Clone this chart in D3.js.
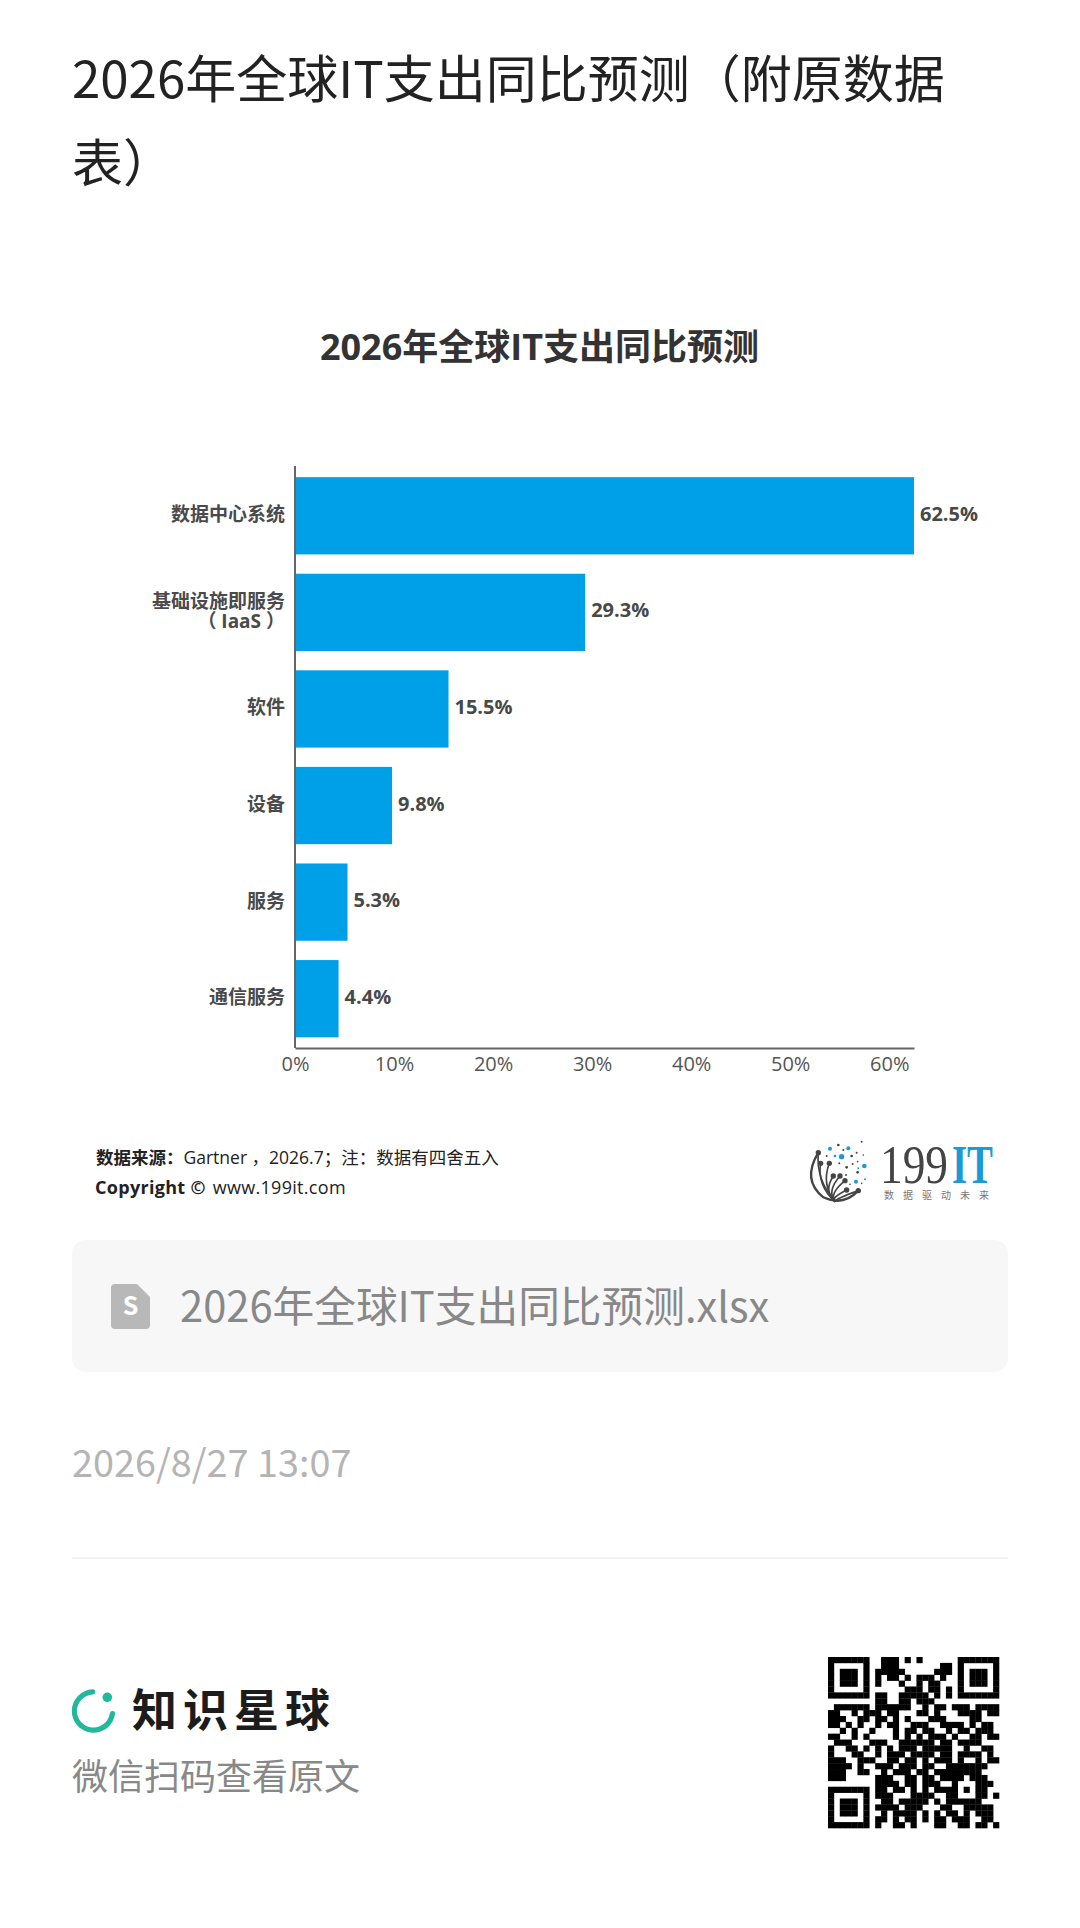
<!DOCTYPE html>
<html>
<head>
<meta charset="utf-8">
<script src="https://cdn.jsdelivr.net/npm/d3@7/dist/d3.min.js"></script>
<style>
	html, body { margin: 0; padding: 0; background: #fff; }
	svg { display: block; }
	text { font-family: "Noto Sans CJK SC", "Noto Sans", sans-serif; }
	.chart text { font-family: "Open Sans", "Noto Sans CJK SC", sans-serif; }
</style>
</head>
<body>
<div id="page"></div>
<script>
"use strict";

const categories = ["数据中心系统", "基础设施即服务|（ IaaS ）", "软件", "设备", "服务", "通信服务"];
const growth = [62.5, 29.3, 15.5, 9.8, 5.3, 4.4];
const tickValues = [0, 10, 20, 30, 40, 50, 60];

// blue and dark specks of the 199IT logo
const logoBlue = [[810, 386, 6], [865, 385, 6], [845, 410, 8], [825, 408, 4], [913, 438, 7], [895, 445, 3], [888, 485, 6], [915, 478, 3]];
const logoDark = [[905, 365, 3], [835, 375, 4], [850, 390, 3], [890, 398, 3], [875, 408, 4], [910, 405, 2.5], [800, 408, 3], [838, 430, 3], [878, 432, 3], [893, 425, 2.5], [860, 442, 4], [893, 457, 4], [858, 465, 3], [870, 493, 2.5], [905, 490, 2.5]];
const logoTips = [[775, 398], [782, 430], [808, 430], [820, 468], [840, 468], [855, 482], [860, 510], [895, 512]];

const qrRows = [
	"XXXXXXX..XXX.X.X......XXXXXXX",
	"X.....X..XXX.......XX.X.....X",
	"X.XXX.X.XXXXX.....XXX.X.XXX.X",
	"X.XXX.X.X.XX.X.XXX.X..X.XXX.X",
	"X.XXX.X.X...X..X.XX...X.XXX.X",
	"X.....X......XXX.XX.X.X.....X",
	"XXXXXXX.XX..XXXXX.X.X.XXXXXXX",
	"........XX..XX.XXX...........",
	".XXXXXX.XXXXXX..X.XX.XXX.XXXX",
	"XX..X.XXX.XX...XX.X...XXXX.XX",
	"XXX..XX.XX.X.X...XXX....XX...",
	"XX.X.X..X.XX..XXX..XXXX.X.XX.",
	"..X.X..X...X.XX.XX..X.XX.XXX.",
	"XX..X.X....X.X.X.XXX.X..XX.XX",
	".XXX...XXX..XXXXXX.XX.XXXX...",
	"X..XX.X.X.X.XXX.XXXXX..X..XX.",
	"X...XX..X.XXX.XXXX.XX.XXXX.X.",
	"XXX..XXX..XX.XX.X.XXX.X..X.XX",
	"XXXX.X..XXX.XXX.XX..XXXXXXX..",
	"XXX..XX..X.XXX.XX.XXXXXXXX...",
	"XXX.....XXX..XX.XX.XXXX.XXX..",
	"........XXXX.XX.XXX..X...XXX.",
	"XXXXXXX.XX.XX.X.X.XXXX.X.XX..",
	"X.....X.XXX...XXXX..XX...XX.X",
	"X.XXX.X..XX.XXXXX.X.XXXXXX...",
	"X.XXX.X.XXXX.XXX...XX..XXXXX.",
	"X.XXX.X..X.XXXX.X.X.XX.X.XXX.",
	"X.....X.XX.X.XX.X.XX.XXX..XX.",
	"XXXXXXX.X..XX.X...XX..XX.XX.X"
];

const svg = d3.select("#page").append("svg")
	.attr("width", 1080)
	.attr("height", 1928);

const addText = (x, y, str, size, color, weight) => svg.append("text")
	.attr("x", x)
	.attr("y", y)
	.attr("font-size", size)
	.attr("font-weight", weight || 400)
	.attr("fill", color)
	.text(str);

// page heading
addText(72, 98, "2026年全球IT支出同比预测（附原数据", 51, "#222");
addText(72, 182, "表）", 51, "#222");

//chart
const chart = svg.append("g").attr("class", "chart");

const x = d3.scaleLinear().domain([0, 62.5]).range([295, 914]);
const y = d3.scaleBand().domain(categories).range([467.5, 1047]).paddingInner(0.2).paddingOuter(0.1);

chart.append("text")
	.attr("x", 539.5)
	.attr("y", 360)
	.attr("text-anchor", "middle")
	.attr("font-size", 36)
	.attr("font-weight", 700)
	.attr("fill", "#333")
	.text("2026年全球IT支出同比预测");

chart.selectAll("rect.bar")
	.data(growth)
	.enter()
	.append("rect")
	.attr("class", "bar")
	.attr("x", x(0))
	.attr("y", (d, i) => y(categories[i]))
	.attr("width", (d) => x(d) - x(0))
	.attr("height", y.bandwidth())
	.attr("fill", "#00a0e9");

chart.selectAll("text.value")
	.data(growth)
	.enter()
	.append("text")
	.attr("class", "value")
	.attr("x", (d) => x(d) + 6)
	.attr("y", (d, i) => y(categories[i]) + y.bandwidth() / 2 + 5)
	.attr("font-size", 20)
	.attr("font-weight", 700)
	.attr("fill", "#484848")
	.text((d) => d.toFixed(1) + "%");

// category labels, the long one breaks over two lines
categories.forEach((c) => {
	const lines = c.split("|");
	const mid = y(c) + y.bandwidth() / 2;
	const label = chart.append("text")
		.attr("y", mid + 5.5 - (lines.length - 1) * 10)
		.attr("text-anchor", "end")
		.attr("font-size", 19)
		.attr("font-weight", 700)
		.attr("fill", "#4a4a4a");
	lines.forEach((line, j) => {
		label.append("tspan")
			.attr("x", 285)
			.attr("dy", j ? 20 : 0)
			.text(line);
	});
});

const xAxis = chart.append("g")
	.attr("transform", "translate(0,1048)")
	.call(d3.axisBottom(x).tickValues(tickValues).tickSize(0).tickPadding(9).tickFormat((d) => d + "%"));
xAxis.select(".domain").attr("stroke", "#666").attr("stroke-width", 2);
xAxis.selectAll("text")
	.attr("font-family", "Open Sans")
	.attr("font-size", 20)
	.attr("fill", "#555");

chart.append("line")
	.attr("x1", 295).attr("x2", 295)
	.attr("y1", 466).attr("y2", 1048)
	.attr("stroke", "#666")
	.attr("stroke-width", 2);

// source notes
const source = chart.append("text").attr("x", 96).attr("y", 1164).attr("font-size", 17.5).attr("fill", "#222");
source.append("tspan").attr("font-weight", 700).text("数据来源：");
source.append("tspan").text("Gartner ，2026.7；注：数据有四舍五入");

const copyright = chart.append("text").attr("x", 95).attr("y", 1194).attr("font-size", 18).attr("letter-spacing", 0.3).attr("fill", "#222");
copyright.append("tspan").attr("font-weight", 700).text("Copyright ©");
copyright.append("tspan").attr("dx", 7).text("www.199it.com");

// 199IT logo, drawn in the coordinates of a 3x crop
const logo = svg.append("g").attr("transform", "translate(560,1020) scale(0.3333)");
logo.selectAll("path.tip")
	.data(logoTips)
	.enter()
	.append("path")
	.attr("class", "tip")
	.attr("d", (d) => `M825,545Q${(d[0] + 760) / 2},${(d[1] + 560) / 2} ${d[0]},${d[1]}`)
	.attr("fill", "none")
	.attr("stroke", "#444")
	.attr("stroke-width", 5);
logo.append("path")
	.attr("d", "M775,398Q725,480 790,532Q850,560 895,512")
	.attr("fill", "none")
	.attr("stroke", "#444")
	.attr("stroke-width", 7);
logo.selectAll("circle.tip")
	.data(logoTips)
	.enter()
	.append("circle")
	.attr("class", "tip")
	.attr("cx", (d) => d[0])
	.attr("cy", (d) => d[1])
	.attr("r", 8)
	.attr("fill", "#444");
logo.selectAll("circle.blue")
	.data(logoBlue)
	.enter()
	.append("circle")
	.attr("class", "blue")
	.attr("cx", (d) => d[0])
	.attr("cy", (d) => d[1])
	.attr("r", (d) => d[2])
	.attr("fill", "#1a9bd7");
logo.selectAll("circle.dark")
	.data(logoDark)
	.enter()
	.append("circle")
	.attr("class", "dark")
	.attr("cx", (d) => d[0])
	.attr("cy", (d) => d[1])
	.attr("r", (d) => d[2])
	.attr("fill", "#444");

// wordmark and strapline share one text element
const wordmark = svg.append("text").attr("y", 1183).attr("font-size", 54).style("font-family", "Liberation Serif");
wordmark.append("tspan").attr("x", 880).attr("fill", "#444")
	.attr("textLength", 68).attr("lengthAdjust", "spacingAndGlyphs").text("199");
wordmark.append("tspan").attr("x", 952).attr("fill", "#1a9bd7").attr("font-weight", 700)
	.attr("textLength", 41).attr("lengthAdjust", "spacingAndGlyphs").text("IT");
wordmark.append("tspan").attr("x", 884).attr("y", 1199).attr("font-size", 10).attr("letter-spacing", 9).attr("fill", "#777")
	.style("font-family", "Noto Sans CJK SC").text("数据驱动未来");

// attachment box
svg.append("rect")
	.attr("x", 72).attr("y", 1240)
	.attr("width", 936).attr("height", 132)
	.attr("rx", 14)
	.attr("fill", "#f7f7f7");
svg.append("path")
	.attr("d", "M115,1284H137L150,1297V1325Q150,1329 146,1329H115Q111,1329 111,1325V1288Q111,1284 115,1284Z")
	.attr("fill", "#b8b8b8");
svg.append("text").attr("x", 130.5).attr("y", 1315)
	.attr("text-anchor", "middle")
	.attr("font-size", 25).attr("font-weight", 700).attr("fill", "#fff").text("S");
addText(180, 1322, "2026年全球IT支出同比预测.xlsx", 41.7, "#888");

addText(72, 1477, "2026/8/27 13:07", 37.8, "#b4b4b4");

svg.append("line")
	.attr("x1", 72).attr("x2", 1008)
	.attr("y1", 1558).attr("y2", 1558)
	.attr("stroke", "#eee")
	.attr("stroke-width", 1.5);

// brand block
const ring = d3.arc()
	.innerRadius(16.5)
	.outerRadius(21.7)
	.startAngle(Math.PI / 2)
	.endAngle(Math.PI * 2 + 0.09)
	.cornerRadius(2.6);
svg.append("path")
	.attr("transform", "translate(93.5,1711)")
	.attr("d", ring())
	.attr("fill", "#21b99b");
svg.append("circle")
	.attr("cx", 107.3).attr("cy", 1697.3).attr("r", 4.8)
	.attr("fill", "#21b99b");
addText(132, 1727, "知识星球", 45, "#1c1c1c", 700).attr("letter-spacing", 6);
addText(72, 1790, "微信扫码查看原文", 36, "#888");

// qr code
const qrSize = 29;
const qr = d3.scaleBand().domain(d3.range(qrSize)).range([0, 171]);
const qrCells = qrRows.flatMap((row, r) => row.split("").map((v, c) => ({ r, c, v }))).filter((d) => d.v === "X");
svg.append("g")
	.attr("transform", "translate(828,1657)")
	.selectAll("rect")
	.data(qrCells)
	.enter()
	.append("rect")
	.attr("x", (d) => qr(d.c))
	.attr("y", (d) => qr(d.r))
	.attr("width", qr.bandwidth() + 0.3)
	.attr("height", qr.bandwidth() + 0.3)
	.attr("fill", "#000");
</script>
</body>
</html>
